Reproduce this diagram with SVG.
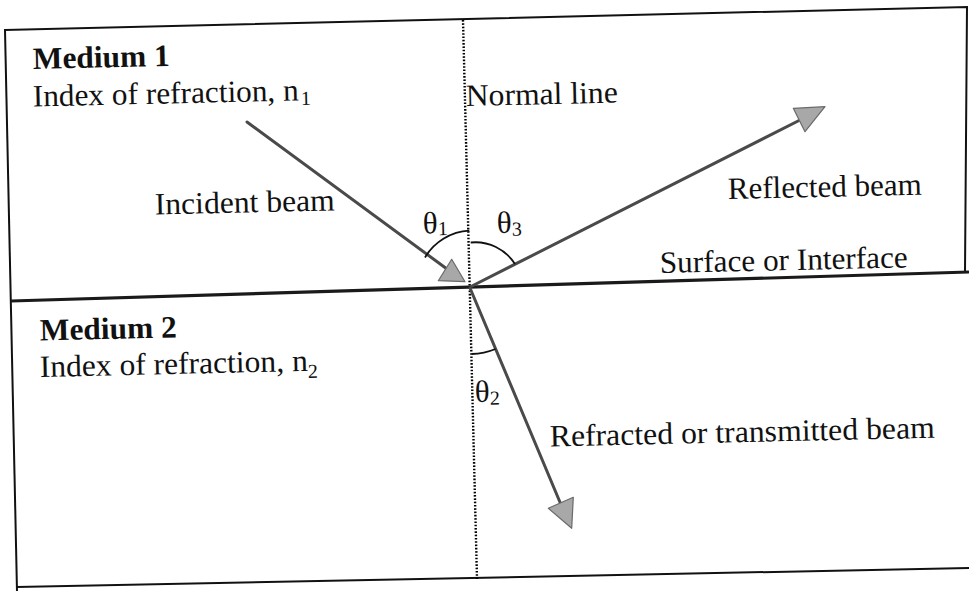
<svg xmlns="http://www.w3.org/2000/svg" width="969" height="591" viewBox="0 0 969 591">
  <style>
    .frame { fill: none; stroke: #111; stroke-width: 2; stroke-linecap: square; }
    .iface { fill: none; stroke: #1a1a1a; stroke-width: 3.2; }
    .normal { fill: none; stroke: #000; stroke-width: 2.4; stroke-dasharray: 1.6 1.7; }
    .beam { fill: none; stroke: #4a4a4a; stroke-width: 3; stroke-linecap: round; }
    .head { fill: #a8a8a8; stroke: #6a6a6a; stroke-width: 1.2; stroke-linejoin: round; }
    .arc { fill: none; stroke: #111; stroke-width: 1.8; }
    text { font-family: "Liberation Serif", "Times New Roman", serif; font-size: 31px; fill: #111; }
    .bold { font-weight: bold; }
    .sub { font-size: 20px; }
  </style>

  <g id="frame">
    <path class="frame" d="M 5 30 L 967 7 L 965 272"/>
    <path class="frame" d="M 5 30 L 17 591"/>
    <path class="frame" d="M 17 587 L 969 568"/>
  </g>

  <g id="interface">
    <line class="iface" x1="11" y1="301" x2="969" y2="272"/>
    <text x="660" y="273" transform="rotate(-1.3 660 273)" textLength="248" lengthAdjust="spacingAndGlyphs">Surface or Interface</text>
  </g>

  <g id="normal-line">
    <line class="normal" x1="463" y1="20" x2="477" y2="579"/>
    <text x="466" y="106" transform="rotate(-1.3 466 106)" textLength="152" lengthAdjust="spacingAndGlyphs">Normal line</text>
  </g>

  <g id="medium1">
    <text class="bold" x="33" y="69" transform="rotate(-1.3 33 69)" textLength="137" lengthAdjust="spacingAndGlyphs">Medium 1</text>
    <text x="33" y="106.5" transform="rotate(-1.3 33 106.5)" textLength="266" lengthAdjust="spacingAndGlyphs">Index of refraction, n</text>
    <text class="sub" x="301" y="105" transform="rotate(-1.3 301 105)">1</text>
  </g>

  <g id="medium2">
    <text class="bold" x="40" y="340.5" transform="rotate(-1.3 40 340.5)" textLength="137" lengthAdjust="spacingAndGlyphs">Medium 2</text>
    <text x="40" y="377" transform="rotate(-1.3 40 377)" textLength="268" lengthAdjust="spacingAndGlyphs">Index of refraction, n</text>
    <text class="sub" x="308" y="378" transform="rotate(-1.3 308 378)">2</text>
  </g>

  <g id="connectors">
    <g id="incident-beam">
      <line class="beam" x1="247" y1="122" x2="447" y2="269"/>
      <polygon class="head" points="451.7,259.3 438.3,280.7 465,281.7"/>
    </g>
    <g id="reflected-beam">
      <line class="beam" x1="472" y1="286" x2="804" y2="118"/>
      <polygon class="head" points="793.3,108.3 825,106.7 805,131.7"/>
    </g>
    <g id="refracted-beam">
      <line class="beam" x1="470" y1="288" x2="562" y2="507"/>
      <polygon class="head" points="548.3,508.3 573.3,497.3 571.7,528.3"/>
    </g>
  </g>

  <g id="angles">
    <path class="arc" d="M 425 257.5 A 55 55 0 0 1 469.3 230.7"/>
    <path class="arc" d="M 470.7 242.5 A 47 47 0 0 1 515 264"/>
    <path class="arc" d="M 471.7 354 A 67 67 0 0 0 495.5 349"/>
  </g>

  <g id="labels">
    <text x="155" y="214.5" transform="rotate(-1.3 155 214.5)" textLength="180" lengthAdjust="spacingAndGlyphs">Incident beam</text>
    <text x="728" y="199" transform="rotate(-1.3 728 199)" textLength="194" lengthAdjust="spacingAndGlyphs">Reflected beam</text>
    <text x="550" y="446.5" transform="rotate(-1.3 550 446.5)" textLength="385" lengthAdjust="spacingAndGlyphs">Refracted or transmitted beam</text>
    <text x="423" y="233.5" transform="rotate(-1.3 423 233.5)">θ<tspan class="sub" dy="2">1</tspan></text>
    <text x="497" y="233" transform="rotate(-1.3 497 233)">θ<tspan class="sub" dy="3">3</tspan></text>
    <text x="475" y="402" transform="rotate(-1.3 475 402)">θ<tspan class="sub" dy="3">2</tspan></text>
  </g>
</svg>
